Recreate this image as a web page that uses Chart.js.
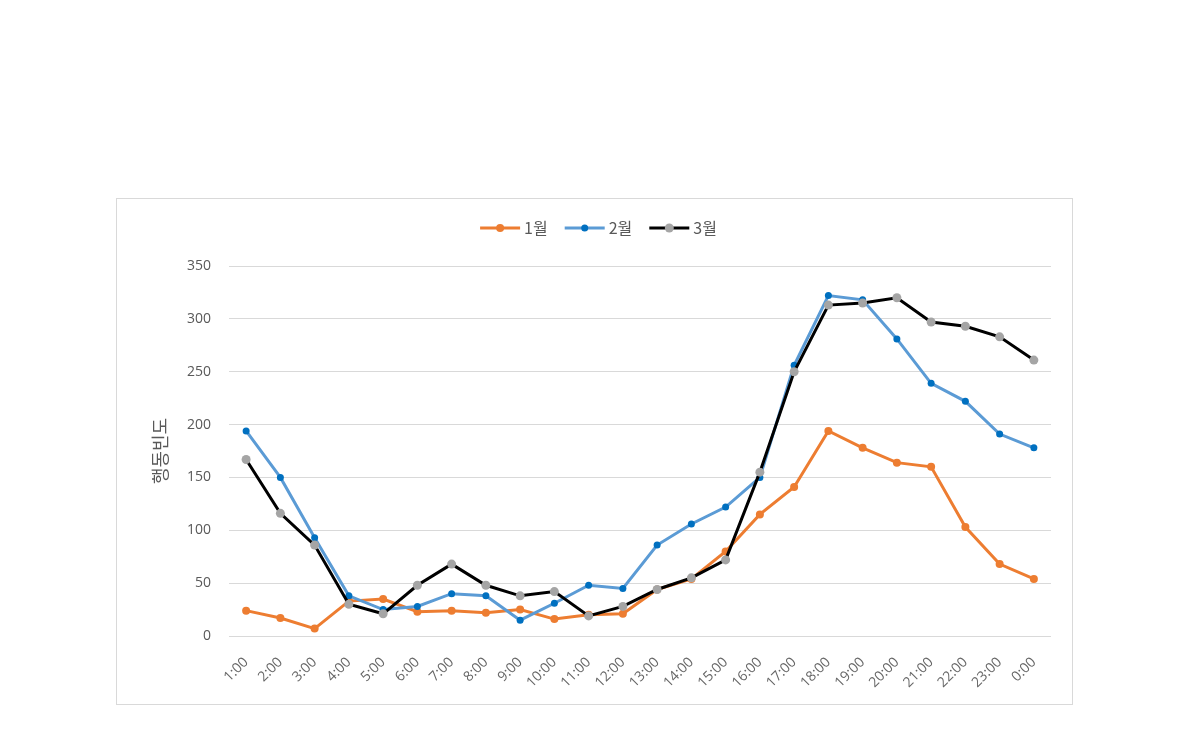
<!DOCTYPE html>
<html>
<head>
<meta charset="utf-8">
<script src="https://cdn.jsdelivr.net/npm/chart.js@4"></script>
<style>
  html, body { margin: 0; padding: 0; background: #fff; }
  body { width: 1190px; height: 738px; position: relative; overflow: hidden; }
  #box { position: absolute; left: 116px; top: 198px; width: 955px; height: 505px; border: 1px solid #d9d9d9; }
  #c { display: block; }
</style>
</head>
<body>
<div id="box"><canvas id="c" width="955" height="505"></canvas></div>
<script>
const categories = ["1:00","2:00","3:00","4:00","5:00","6:00","7:00","8:00","9:00","10:00","11:00","12:00","13:00","14:00","15:00","16:00","17:00","18:00","19:00","20:00","21:00","22:00","23:00","0:00"];
const seriesNames = ["1월", "2월", "3월"];
const jan = [24, 17, 7, 33, 35, 23, 24, 22, 25, 16, 20, 21, 44, 54, 80, 115, 141, 194, 178, 164, 160, 103, 68, 54];
const feb = [194, 150, 93, 38, 25, 28, 40, 38, 15, 31, 48, 45, 86, 106, 122, 150, 256, 322, 318, 281, 239, 222, 191, 178];
const mar = [167, 116, 86, 30, 21, 48, 68, 48, 38, 42, 19, 28, 44, 55, 72, 155, 250, 313, 315, 320, 297, 293, 283, 261];
const yTicks = [0, 50, 100, 150, 200, 250, 300, 350];

const lineColors = ["#ED7D31", "#5B9BD5", "#000000"];
const markerColors = ["#ED7D31", "#0070C0", "#A5A5A5"];
const markerRadius = [4, 3.5, 4.5];

const fontFam = "'Noto Sans CJK KR', 'Open Sans', sans-serif";
const tickFam = "'Open Sans', 'Noto Sans CJK KR', sans-serif";
const values = [jan, feb, mar];

const customLegend = {
  id: 'customLegend',
  afterDraw(chart) {
    const ctx = chart.ctx;
    const fontSize = 16;
    const lineLen = 40, gapText = 4, gapItem = 17;
    ctx.save();
    ctx.font = fontSize + "px " + fontFam;
    ctx.textBaseline = 'middle';
    const widths = seriesNames.map(n => lineLen + gapText + ctx.measureText(n).width);
    const total = widths.reduce((a, b) => a + b, 0) + gapItem * (widths.length - 1);
    let x = chart.width / 2 - total / 2 + 4;
    const y = 29;
    seriesNames.forEach((n, i) => {
      ctx.strokeStyle = lineColors[i];
      ctx.lineWidth = 3;
      ctx.beginPath(); ctx.moveTo(x, y); ctx.lineTo(x + lineLen, y); ctx.stroke();
      ctx.fillStyle = markerColors[i];
      ctx.beginPath(); ctx.arc(x + lineLen / 2, y, markerRadius[i], 0, Math.PI * 2); ctx.fill();
      ctx.fillStyle = '#595959';
      ctx.textAlign = 'left';
      ctx.fillText(n, x + lineLen + gapText, y);
      x += widths[i] + gapItem;
    });
    ctx.restore();
  }
};

new Chart(document.getElementById('c'), {
  type: 'line',
  data: {
    labels: categories,
    datasets: values.map((v, i) => ({
      label: seriesNames[i],
      data: v,
      borderColor: lineColors[i],
      backgroundColor: markerColors[i],
      pointBackgroundColor: markerColors[i],
      pointBorderColor: markerColors[i],
      pointBorderWidth: 0,
      pointRadius: markerRadius[i],
      pointHoverRadius: markerRadius[i],
      borderWidth: 3,
      tension: 0,
      fill: false,
      order: 3 - i
    }))
  },
  plugins: [customLegend],
  options: {
    responsive: false,
    animation: false,
    events: [],
    layout: { padding: { left: 30, right: 21, top: 67, bottom: 0 } },
    plugins: {
      tooltip: { enabled: false },
      legend: { display: false }
    },
    scales: {
      x: {
        offset: true,
        grid: { display: false, drawTicks: false },
        border: { display: false },
        ticks: {
          autoSkip: false,
          minRotation: 45,
          maxRotation: 45,
          padding: 18,
          color: '#666666',
          font: { family: tickFam, size: 14 }
        },
        afterFit: (s) => { s.height = 68; }
      },
      y: {
        min: 0,
        max: 350,
        afterBuildTicks: (s) => { s.ticks = yTicks.map(v => ({ value: v })); },
        grid: { color: '#d9d9d9', lineWidth: 1, drawTicks: false },
        border: { display: false },
        ticks: {
          padding: 18,
          color: '#595959',
          font: { family: tickFam, size: 14 }
        },
        title: {
          display: true,
          text: '행동빈도',
          color: '#595959',
          font: { family: fontFam, size: 18 },
          padding: { top: 2, bottom: 4 }
        },
        afterFit: (s) => { s.width = 82; }
      }
    }
  }
});
</script>
</body>
</html>
